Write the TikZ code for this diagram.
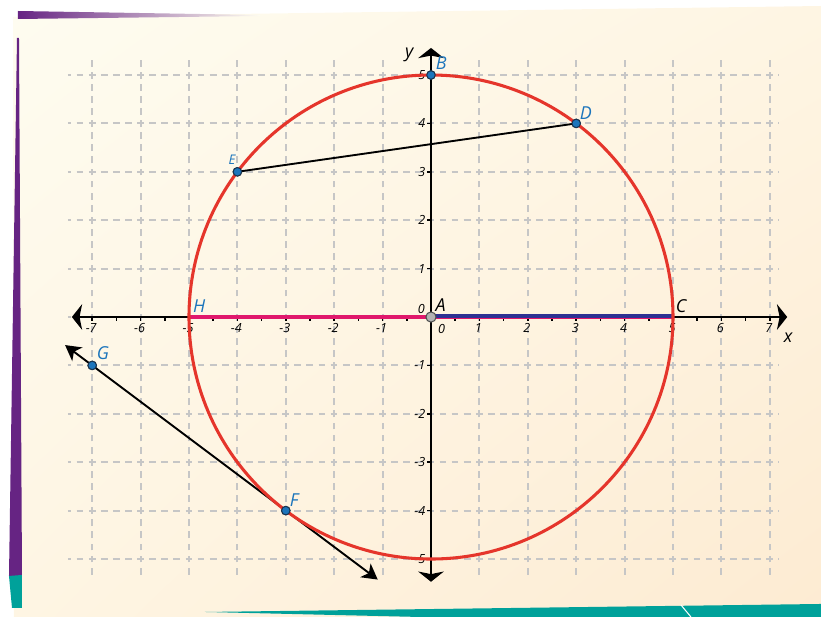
\documentclass[tikz,border=0pt]{standalone}
\usepackage{fontspec}
\setmainfont{Open Sans}
\usetikzlibrary{arrows.meta,shadings}
\definecolor{paperA}{HTML}{FEFCF0}
\definecolor{paperM}{HTML}{FEF5E3}
\definecolor{paperB}{HTML}{FDEBD2}
\definecolor{purp}{HTML}{662483}
\definecolor{teal}{HTML}{00A19A}
\definecolor{gridgray}{HTML}{C6C6C6}
\definecolor{circred}{HTML}{E5352B}
\definecolor{segpink}{HTML}{E0186C}
\definecolor{segblue}{HTML}{2E3192}
\definecolor{ptblue}{HTML}{1C75BC}
\definecolor{ptedge}{HTML}{1A3550}
\definecolor{lblblue}{HTML}{1C75BC}
\begin{document}
\begin{tikzpicture}[
  gridline/.style={draw=gridgray, line width=1.15pt, dash pattern=on 4pt off 3.11pt},
  axisline/.style={draw=black, line width=1.4pt,
    {Stealth[length=6pt,width=15pt,inset=1.5pt]}-{Stealth[length=6pt,width=15pt,inset=1.5pt]}},
  tickmark/.style={draw=black, line width=0.9pt},
  ticklbl/.style={font=\fontsize{7.4}{8}\selectfont\itshape, text=black, inner sep=0pt},
  ptlbl/.style={font=\fontsize{10.5}{12}\selectfont\itshape, text=lblblue, inner sep=0pt},
  blklbl/.style={font=\fontsize{10.5}{12}\selectfont\itshape, text=black, inner sep=0pt},
  pt/.style={circle, fill=ptblue, draw=ptedge, line width=0.6pt, inner sep=0pt, minimum size=5pt},
  origpt/.style={circle, fill=gray!60, draw=black!70, line width=0.6pt, inner sep=0pt, minimum size=6pt},
  thinline/.style={draw=black, line width=1.1pt},
  tangline/.style={draw=black, line width=1.1pt,
    {Stealth[length=9pt,width=10pt,inset=2.5pt]}-{Stealth[length=9pt,width=10pt,inset=2.5pt]}},
  circline/.style={draw=circred, line width=1.8pt},
  pinkseg/.style={draw=segpink, line width=2.3pt},
  blueseg/.style={draw=segblue, line width=2.2pt}
]
\useasboundingbox (-8.905,-6.198) rectangle (8.058,6.550);
% paper background in pixel coordinates
\begin{scope}[shift={(-8.905,6.55)}, x=0.020661cm, y=-0.020661cm]
  \shade[upper left=paperA, upper right=paperM, lower left=paperM, lower right=paperB]
    (13,17) -- (821,6) -- (821,617) -- (14,617) -- cycle;
  \shade[left color=purp, right color=paperA] (18,11) -- (260,15) -- (260,16) -- (18,19) -- cycle;
  \fill[purp] (17,38) -- (19,38) -- (22,576) -- (9,576) -- cycle;
  \fill[teal] (9,576) -- (22,575) -- (22,608) -- (12,608) -- cycle;
  \fill[teal] (205,612) -- (821,604) -- (821,617) -- (420,617) -- cycle;
  \draw[white, line width=0.6pt] (681,605) -- (691,617);
\end{scope}
% grid
\foreach \i in {-7,...,7} \draw[gridline, dash phase=4.27pt] (\i,-5.42) -- (\i,5.42);
\foreach \j in {-5,...,5} \draw[gridline, dash phase=2pt] (-7.5,\j) -- (7.2,\j);
% axes
\coordinate (xl) at (-7.42,0);
\coordinate (xr) at (7.36,0);
\coordinate (yb) at (0,-5.47);
\coordinate (yt) at (0,5.56);
\draw[axisline] (xl) -- (xr);
\draw[axisline] (yb) -- (yt);
\foreach \i in {-7,-6.5,...,7} \draw[tickmark] (\i,0) -- (\i,-0.09);
\foreach \j in {-5,...,5} \draw[tickmark] (0,\j) -- (-0.09,\j);
% tick labels
\foreach \i in {-7,...,-1,1,2,...,7} \node[ticklbl] (tx\i) at (\i-0.02,-0.23) {\i};
\foreach \j in {-5,...,-1,1,2,...,5} \node[ticklbl, anchor=east] (ty\j) at (-0.11,\j) {\j};
\node[ticklbl] (t0a) at (-0.2,0.17) {0};
\node[ticklbl] (t0b) at (0.22,-0.24) {0};
% coordinates for segments
\coordinate (H) at (-5,0);
\coordinate (C) at (5,0);
\coordinate (Cb) at (5,0.025);
\coordinate (Ab) at (0,0.025);
\draw[pinkseg] (H) -- (C);
\draw[blueseg] (Ab) -- (Cb);
% points
\node[pt] (B) at (0,5) {};
\node[pt] (D) at (3,4) {};
\node[pt] (E) at (-4,3) {};
\node[pt] (G) at (-7,-1) {};
\node[pt] (F) at (-3,-4) {};
\coordinate (T1) at (-7.56,-0.58);
\coordinate (T2) at (-1.1,-5.425);
% lines
\draw[thinline] (E.center) -- (D.center);
\draw[tangline] (T1) -- (T2);
% circle
\node[circle, minimum size=10cm, inner sep=0pt, circline] (circ) at (0,0) {};
% points on top
\node[pt] at (B) {};
\node[pt] at (D) {};
\node[pt] at (E) {};
\node[pt] at (G) {};
\node[pt] at (F) {};
\node[origpt] (A) at (0,0) {};
% labels
\node[blklbl] (lA) at (0.2,0.25) {A};
\node[ptlbl] (lB) at (0.21,5.25) {B};
\node[blklbl] (lC) at (5.17,0.23) {C};
\node[ptlbl] (lD) at (3.2,4.21) {D};
\node[ptlbl, font=\fontsize{7.8}{9}\selectfont\itshape] (lE) at (-4.11,3.24) {E};
\node[ptlbl] (lF) at (-2.83,-3.78) {F};
\node[ptlbl] (lG) at (-6.78,-0.75) {G};
\node[ptlbl] (lH) at (-4.79,0.23) {H};
\node[blklbl] (lx) at (7.38,-0.43) {x};
\node[blklbl] (ly) at (-0.45,5.41) {y};
\end{tikzpicture}
\end{document}
